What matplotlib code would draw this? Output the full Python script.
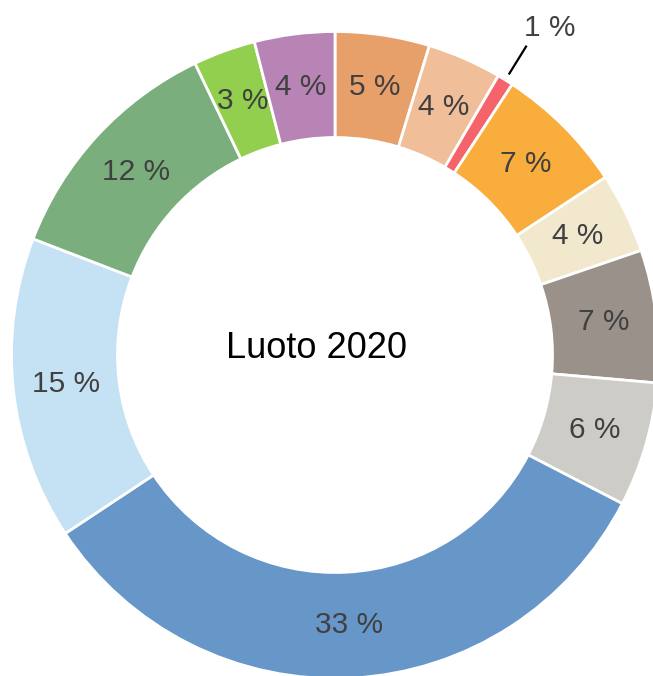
import matplotlib
matplotlib.use("Agg")
import matplotlib.pyplot as plt
import numpy as np

# Shares (percent) read clockwise from 12 o'clock
values = [4.7, 3.7, 0.8, 6.5, 4.0, 6.6, 6.2, 33.0, 15.1, 12.0, 3.1, 4.0]
colors = ["#E8A06A", "#F0BE98", "#F4646A", "#F9AD3C", "#F2E8CE", "#9A928A",
          "#CDCCC6", "#6796C8", "#C5E2F5", "#7BAE7D", "#92CF4E", "#B884B6"]
title = "Luoto 2020"

plt.rcParams['font.family'] = ['Liberation Sans', 'DejaVu Sans']

W, H = 653, 676
fig = plt.figure(figsize=(W / 100, H / 100), dpi=100)
ax = fig.add_axes([0, 0, 1, 1])

R_px = 323.5
cx, cy = 335.0, 355.0  # centre in pixels (from top-left)
ring = (323.5 - 217.5) / 323.5

wedges, _ = ax.pie(values, colors=colors, startangle=90, counterclock=False,
                   radius=1.0, wedgeprops=dict(width=ring, edgecolor="white", linewidth=2))

ax.set_aspect('auto')
ax.set_xlim(-cx / R_px, (W - cx) / R_px)
ax.set_ylim(-(H - cy) / R_px, cy / R_px)
ax.axis('off')

total = sum(values)
label_r = 1.0 - ring / 2
for w, v in zip(wedges, values):
    pct = v / total * 100
    mid = np.deg2rad((w.theta1 + w.theta2) / 2)
    txt = f"{pct:.0f} %"
    if pct < 2:
        x0, y0 = 1.02 * np.cos(mid), 1.02 * np.sin(mid)
        x1, y1 = 1.125 * np.cos(mid), 1.125 * np.sin(mid)
        ax.plot([x0, x1], [y0, y1], color="black", lw=1.6, solid_capstyle='butt')
        ax.text(x1 - 3 / R_px, y1 + 10 / R_px, txt, ha='left', va='baseline',
                fontsize=21.5, color="#404040")
    else:
        ax.text(label_r * np.cos(mid), label_r * np.sin(mid), txt,
                ha='center', va='center', fontsize=21.5, color="#404040")

ax.text(-18 / R_px, 6 / R_px, title, ha='center', va='center', fontsize=26, color="black")

fig.savefig("out.png", dpi=100)
